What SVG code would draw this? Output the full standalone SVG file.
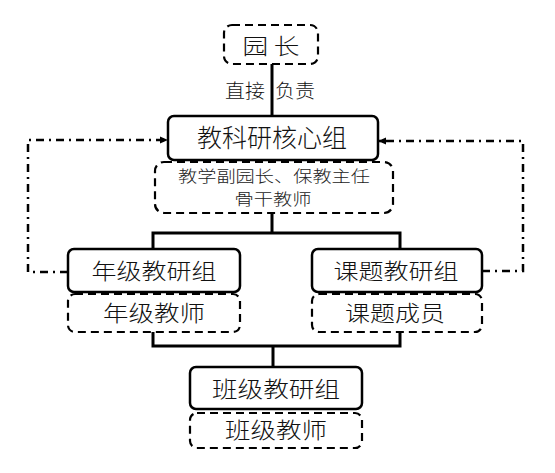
<svg xmlns="http://www.w3.org/2000/svg" width="555" height="473" viewBox="0 0 555 473">
<style>
.solid{fill:#fff;stroke:#000;stroke-width:2.5}
.dash{fill:#fff;stroke:#000;stroke-width:2.2;stroke-dasharray:8 5}
.t{font-family:"Noto Sans CJK SC","Noto Sans CJK JP",sans-serif;font-weight:300;fill:#111;text-anchor:middle}
.l{font-size:22px}
.s{font-size:16px;fill:#222}
.ln{fill:none;stroke:#000;stroke-width:3}
.dd{fill:none;stroke:#000;stroke-width:2.5;stroke-dasharray:8 5 2 5}
</style>
<defs>
<marker id="ah" markerWidth="8" markerHeight="8" refX="7" refY="4" orient="auto" markerUnits="userSpaceOnUse">
<path d="M0,0.5 L8,4 L0,7.5 Z" fill="#000"/>
</marker>
</defs>
<rect width="555" height="473" fill="#fff"/>
<g id="connectors">
<path class="ln" d="M272,64 V116"/>
<path class="ln" d="M272,213 V233 M153,249 V233 H400 V249"/>
<path class="ln" d="M153,332 V346 H400 V332 M273,346 V367"/>
<path class="dd" d="M68,272 H28 V140 H167" marker-end="url(#ah)"/>
<path class="dd" d="M482,271 H523 V141 H379" marker-end="url(#ah)"/>
<text class="t" y="98" font-size="19px" style="text-anchor:start"><tspan x="225" textLength="40" lengthAdjust="spacingAndGlyphs">直接</tspan> <tspan x="275" textLength="40" lengthAdjust="spacingAndGlyphs">负责</tspan></text>
</g>
<g id="yuanzhang">
<rect class="dash" x="224" y="25" width="94" height="39" rx="8"/>
<text class="t l" x="271" y="54" textLength="57" lengthAdjust="spacingAndGlyphs">园 长</text>
</g>
<g id="hexinzu">
<rect class="solid" x="168" y="116" width="210" height="44" rx="6"/>
<text class="t" x="272" y="147" font-size="25px" textLength="150" lengthAdjust="spacingAndGlyphs">教科研核心组</text>
</g>
<g id="hexinzu-members">
<rect class="dash" x="155" y="162" width="238" height="51" rx="9"/>
<text class="t s" x="274" y="182" textLength="192" lengthAdjust="spacingAndGlyphs">教学副园长、保教主任</text>
<text class="t s" x="273" y="205" textLength="77" lengthAdjust="spacingAndGlyphs">骨干教师</text>
</g>
<g id="nianji">
<rect class="solid" x="68" y="249" width="172" height="43" rx="6"/>
<text class="t l" x="154" y="279" textLength="125" lengthAdjust="spacingAndGlyphs">年级教研组</text>
</g>
<g id="nianji-members">
<rect class="dash" x="68" y="294" width="172" height="38" rx="7"/>
<text class="t l" x="154" y="321" textLength="102" lengthAdjust="spacingAndGlyphs">年级教师</text>
</g>
<g id="keti">
<rect class="solid" x="312" y="249" width="170" height="43" rx="6"/>
<text class="t l" x="396" y="279" textLength="125" lengthAdjust="spacingAndGlyphs">课题教研组</text>
</g>
<g id="keti-members">
<rect class="dash" x="312" y="294" width="170" height="38" rx="7"/>
<text class="t l" x="395" y="321" textLength="100" lengthAdjust="spacingAndGlyphs">课题成员</text>
</g>
<g id="banji">
<rect class="solid" x="190" y="367" width="172" height="42" rx="6"/>
<text class="t l" x="276" y="397" textLength="128" lengthAdjust="spacingAndGlyphs">班级教研组</text>
</g>
<g id="banji-members">
<rect class="dash" x="190" y="413" width="172" height="35" rx="7"/>
<text class="t l" x="276" y="438" textLength="102" lengthAdjust="spacingAndGlyphs">班级教师</text>
</g>
</svg>
